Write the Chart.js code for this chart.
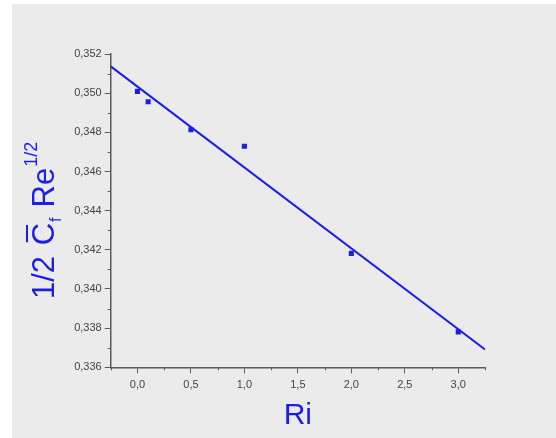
<!DOCTYPE html>
<html>
<head>
<meta charset="utf-8">
<script src="https://cdn.jsdelivr.net/npm/chart.js@4"></script>
<style>
  body { margin: 0; background: #fff; }
  #box { position: absolute; left: 12px; top: 4px; width: 544px; height: 434px; background: #ebebeb; }
</style>
</head>
<body>
<div id="box"><canvas id="myChart" width="544" height="434"></canvas></div>
<script>
// measured points
const riValues = [0, 0.1, 0.5, 1, 2, 3];
const cfValues = [0.35009, 0.34956, 0.34813, 0.34729, 0.34182, 0.33781];
// linear fit end points
const fitRi = [-0.25, 3.25];
const fitCf = [0.35137, 0.33691];

const blue = 'rgb(28, 28, 235)';
const axisGray = '#5a5a5a';

// short minor ticks + y axis title with overline/sub/superscript
const extras = {
    id: 'extras',
    afterDraw(chart) {
        const c = chart.ctx;
        const xs = chart.scales.x, ys = chart.scales.y;
        c.save();
        c.strokeStyle = axisGray;
        c.lineWidth = 1;
        c.beginPath();
        xs.ticks.forEach(t => {
            if (Math.abs(t.value * 2 - Math.round(t.value * 2)) > 1e-6) {
                const px = Math.round(xs.getPixelForValue(t.value)) + 0.5;
                c.moveTo(px, xs.top);
                c.lineTo(px, xs.top + 3);
            }
        });
        ys.ticks.forEach(t => {
            if (Math.round(t.value * 1000) % 2 !== 0) {
                const py = Math.round(ys.getPixelForValue(t.value)) + 0.5;
                c.moveTo(ys.right, py);
                c.lineTo(ys.right - 3, py);
            }
        });
        c.stroke();

        // y title, drawn rotated
        c.translate(42, 295);
        c.rotate(-Math.PI / 2);
        c.fillStyle = blue;
        c.strokeStyle = blue;
        c.textBaseline = 'alphabetic';
        let x = 0;
        c.font = '31px Arial, "Liberation Sans", sans-serif';
        c.fillText('1/2 ', x, 0);
        x += c.measureText('1/2 ').width + 2;
        c.fillText('C', x, 0);
        const cw = c.measureText('C').width;
        c.lineWidth = 2;
        c.beginPath();
        c.moveTo(x + 3, -27);
        c.lineTo(x + cw - 2, -27);
        c.stroke();
        x += cw + 1;
        c.font = '16px Arial, "Liberation Sans", sans-serif';
        c.fillText('f', x, 7);
        x += c.measureText('f').width + 10;
        c.font = '31px Arial, "Liberation Sans", sans-serif';
        c.fillText('Re', x, 0);
        x += c.measureText('Re').width + 1;
        c.font = '18px Arial, "Liberation Sans", sans-serif';
        c.fillText('1/2', x, -17);
        c.restore();
    }
};

const ctx = document.getElementById('myChart');

var chart = new Chart(ctx, {
    type: 'scatter',
    data: {
        datasets: [{
            label: 'fit',
            data: fitRi.map((r, i) => ({ x: r, y: fitCf[i] })),
            showLine: true,
            borderColor: blue,
            borderWidth: 2,
            pointRadius: 0
        }, {
            label: 'data',
            data: riValues.map((r, i) => ({ x: r, y: cfValues[i] })),
            pointStyle: 'rect',
            pointRadius: 3.6,
            backgroundColor: blue,
            borderWidth: 0
        }]
    },
    options: {
        responsive: false,
        animation: false,
        layout: { padding: { left: 0, top: 50, right: 71, bottom: 0 } },
        plugins: {
            legend: { display: false },
            tooltip: { enabled: false }
        },
        scales: {
            x: {
                type: 'linear',
                min: -0.25,
                max: 3.25,
                afterFit: s => { s.height = 70.7; },
                border: { color: axisGray, width: 1.5 },
                grid: {
                    drawOnChartArea: false,
                    tickLength: 6,
                    tickColor: c => (Math.abs(c.tick.value * 2 - Math.round(c.tick.value * 2)) < 1e-6 ? axisGray : 'transparent')
                },
                ticks: {
                    stepSize: 0.25,
                    autoSkip: false,
                    maxRotation: 0,
                    padding: 5,
                    color: '#444',
                    font: { family: 'Arial, "Liberation Sans", sans-serif', size: 11 },
                    callback: v => (Math.abs(v * 2 - Math.round(v * 2)) < 1e-6 ? v.toFixed(1).replace('.', ',') : '')
                },
                title: {
                    display: true,
                    text: 'Ri',
                    color: blue,
                    padding: { top: 9 },
                    font: { family: 'Arial, "Liberation Sans", sans-serif', size: 30 }
                }
            },
            y: {
                type: 'linear',
                min: 0.336,
                max: 0.352,
                afterFit: s => { s.width = 98.7; },
                border: { color: axisGray, width: 1.5 },
                grid: {
                    drawOnChartArea: false,
                    tickLength: 6,
                    tickColor: c => (Math.round(c.tick.value * 1000) % 2 === 0 ? axisGray : 'transparent')
                },
                ticks: {
                    stepSize: 0.001,
                    autoSkip: false,
                    padding: 3,
                    color: '#444',
                    font: { family: 'Arial, "Liberation Sans", sans-serif', size: 11 },
                    callback: v => (Math.round(v * 1000) % 2 === 0 ? v.toFixed(3).replace('.', ',') : '')
                }
            }
        }
    },
    plugins: [extras]
});
</script>
</body>
</html>
